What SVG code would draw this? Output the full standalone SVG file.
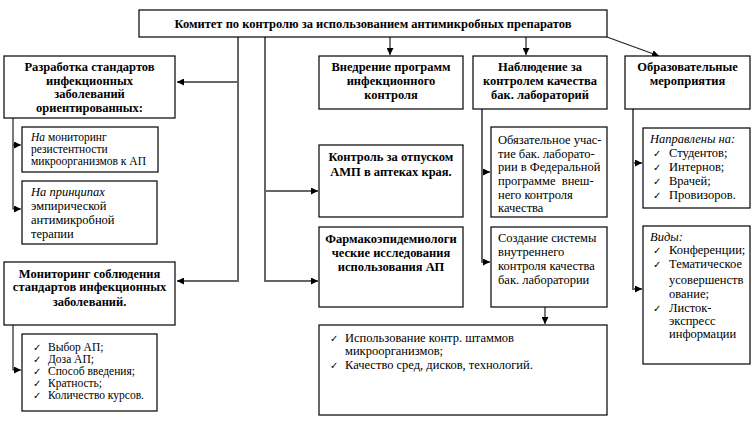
<svg xmlns="http://www.w3.org/2000/svg" width="752" height="421" viewBox="0 0 752 421">
<style>
.box{fill:#fff;stroke:#000;stroke-width:1.2}
.h{font-weight:bold;font-size:12.5px;text-anchor:middle}
.t{font-size:12.5px}
.s{font-size:11.5px}
.i{font-style:italic}
.c{font-size:10px}
.g{fill:none;stroke:#666;stroke-width:2}
.k{fill:none;stroke:#222;stroke-width:1.2}
</style>
<defs>
<marker id="a" viewBox="0 0 10 10" refX="10" refY="5" markerWidth="7" markerHeight="7" markerUnits="userSpaceOnUse" orient="auto"><path d="M0,0 L10,5 L0,10 z" fill="#000"/></marker>
</defs>
<g id="connectors">
<path class="g" d="M238,37 V82 H177" marker-end="url(#a)"/>
<path class="g" d="M238,82 V281 H177" marker-end="url(#a)"/>
<path class="g" d="M265,37 V191 H318" marker-end="url(#a)"/>
<path class="g" d="M265,191 V281 H318" marker-end="url(#a)"/>
<path class="k" d="M390,37 V55" marker-end="url(#a)"/>
<path class="k" d="M526,37 V55" marker-end="url(#a)"/>
<path class="k" d="M607,37 L659,56" marker-end="url(#a)"/>
<path class="k" d="M13,118 V145 H21" marker-end="url(#a)"/>
<path class="k" d="M13,145 V209 H21" marker-end="url(#a)"/>
<path class="k" d="M13,325 V370 H21" marker-end="url(#a)"/>
<path class="g" d="M482,109 V172 H490" stroke-width="1.5" marker-end="url(#a)"/>
<path class="g" d="M482,172 V262 H490" stroke-width="1.5" marker-end="url(#a)"/>
<path class="k" d="M545,307 V324" marker-end="url(#a)"/>
<path class="g" d="M633,109 V163 H642" stroke-width="1.5" marker-end="url(#a)"/>
<path class="g" d="M633,163 V289 H642" stroke-width="1.5" marker-end="url(#a)"/>
</g>
<g font-family="Liberation Serif, DejaVu Serif" fill="#000">
<g id="n-top">
<rect class="box" x="139" y="10" width="468" height="27"/>
<text class="h" x="373" y="28">Комитет по контролю за использованием антимикробных препаратов</text>
</g>
<g id="n-razrabotka">
<rect class="box" x="4" y="56" width="171" height="62"/>
<text class="h" x="89.5" y="71">Разработка стандартов</text>
<text class="h" x="89.5" y="85">инфекционных</text>
<text class="h" x="89.5" y="98">заболеваний</text>
<text class="h" x="89.5" y="112">ориентированных:</text>
</g>
<g id="n-na-monitoring">
<rect class="box" x="22" y="127" width="136" height="45"/>
<text class="s" x="31" y="141"><tspan class="i">На</tspan> мониторинг</text>
<text class="s" x="31" y="153">резистентности</text>
<text class="s" x="31" y="165">микроорганизмов к АП</text>
</g>
<g id="n-na-principah">
<rect class="box" x="22" y="181" width="135" height="63"/>
<text class="t i" x="31" y="196">На принципах</text>
<text class="t" x="31" y="210">эмпирической</text>
<text class="t" x="31" y="224">антимикробной</text>
<text class="t" x="31" y="238">терапии</text>
</g>
<g id="n-monitoring">
<rect class="box" x="4" y="262" width="171" height="63"/>
<text class="h" x="89.5" y="278">Мониторинг соблюдения</text>
<text class="h" x="89.5" y="291">стандартов инфекционных</text>
<text class="h" x="89.5" y="306">заболеваний.</text>
</g>
<g id="n-checklist">
<rect class="box" x="22" y="334" width="135" height="77"/>
<text class="s" y="351"><tspan class="c" x="33">✓</tspan><tspan x="48">Выбор АП;</tspan></text>
<text class="s" y="363"><tspan class="c" x="33">✓</tspan><tspan x="48">Доза АП;</tspan></text>
<text class="s" y="375"><tspan class="c" x="33">✓</tspan><tspan x="48">Способ введения;</tspan></text>
<text class="s" y="387"><tspan class="c" x="33">✓</tspan><tspan x="48">Кратность;</tspan></text>
<text class="s" y="399"><tspan class="c" x="33">✓</tspan><tspan x="48">Количество курсов.</tspan></text>
</g>
<g id="n-vnedrenie">
<rect class="box" x="319" y="56" width="144" height="53"/>
<text class="h" x="391" y="71">Внедрение программ</text>
<text class="h" x="391" y="85">инфекционного</text>
<text class="h" x="391" y="99">контроля</text>
</g>
<g id="n-kontrol">
<rect class="box" x="319" y="145" width="144" height="72"/>
<text class="h" x="391" y="161">Контроль за отпуском</text>
<text class="h" x="391" y="176">АМП в аптеках края.</text>
</g>
<g id="n-farmako">
<rect class="box" x="319" y="227" width="144" height="80"/>
<text class="h" x="391" y="243">Фармакоэпидемиологи</text>
<text class="h" x="391" y="257">ческие исследования</text>
<text class="h" x="391" y="271">использования АП</text>
</g>
<g id="n-nablyudenie">
<rect class="box" x="473" y="56" width="134" height="53"/>
<text class="h" x="540" y="71">Наблюдение за</text>
<text class="h" x="540" y="85">контролем качества</text>
<text class="h" x="540" y="99">бак. лабораторий</text>
</g>
<g id="n-obyazatelnoe">
<rect class="box" x="491" y="127" width="116" height="90"/>
<text class="t" x="498" y="144">Обязательное учас-</text>
<text class="t" x="498" y="158">тие бак. лаборато-</text>
<text class="t" x="498" y="171">рии в Федеральной</text>
<text class="t" x="498" y="185" xml:space="preserve">программе  внеш-</text>
<text class="t" x="498" y="199">него контроля</text>
<text class="t" x="498" y="212">качества</text>
</g>
<g id="n-sozdanie">
<rect class="box" x="491" y="227" width="116" height="80"/>
<text class="t" x="498" y="242">Создание системы</text>
<text class="t" x="498" y="256">внутреннего</text>
<text class="t" x="498" y="270">контроля качества</text>
<text class="t" x="498" y="284">бак. лаборатории</text>
</g>
<g id="n-bottom">
<rect class="box" x="319" y="325" width="288" height="90"/>
<text class="t" y="342"><tspan class="c" x="330">✓</tspan><tspan x="345">Использование контр. штаммов</tspan></text>
<text class="t" x="345" y="355">микроорганизмов;</text>
<text class="t" y="369"><tspan class="c" x="330">✓</tspan><tspan x="345">Качество сред, дисков, технологий.</tspan></text>
</g>
<g id="n-obrazovatelnye">
<rect class="box" x="625" y="56" width="125" height="53"/>
<text class="h" x="687.5" y="71">Образовательные</text>
<text class="h" x="687.5" y="85">мероприятия</text>
</g>
<g id="n-napravleny">
<rect class="box" x="643" y="128" width="107" height="80"/>
<text class="t i" x="650" y="143">Направлены на:</text>
<text class="t" y="157"><tspan class="c" x="653">✓</tspan><tspan x="669">Студентов;</tspan></text>
<text class="t" y="171"><tspan class="c" x="653">✓</tspan><tspan x="669">Интернов;</tspan></text>
<text class="t" y="185"><tspan class="c" x="653">✓</tspan><tspan x="669">Врачей;</tspan></text>
<text class="t" y="199"><tspan class="c" x="653">✓</tspan><tspan x="669">Провизоров.</tspan></text>
</g>
<g id="n-vidy">
<rect class="box" x="643" y="226" width="107" height="138"/>
<text class="t i" x="650" y="241">Виды:</text>
<text class="t" y="254"><tspan class="c" x="653">✓</tspan><tspan x="669">Конференции;</tspan></text>
<text class="t" y="268"><tspan class="c" x="653">✓</tspan><tspan x="669">Тематическое</tspan></text>
<text class="t" x="669" y="284">усовершенств</text>
<text class="t" x="669" y="298">ование;</text>
<text class="t" y="312"><tspan class="c" x="653">✓</tspan><tspan x="669">Листок-</tspan></text>
<text class="t" x="669" y="325">экспресс</text>
<text class="t" x="669" y="338">информации</text>
</g>
</g>
</svg>
